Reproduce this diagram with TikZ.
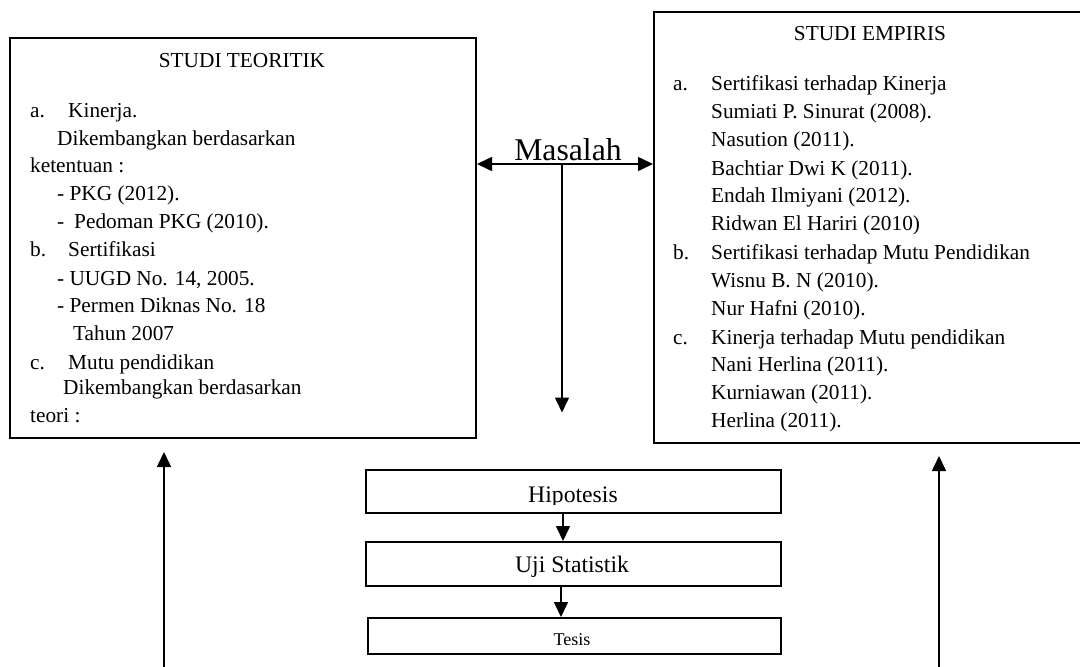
\documentclass[tikz,border=0pt]{standalone}
\usepackage{fontspec}
\setmainfont{Liberation Serif}
\usetikzlibrary{arrows.meta}
\tikzset{
  boxframe/.style={draw, line width=2pt, inner sep=0pt, anchor=north west},
  txt/.style={inner sep=0pt, anchor=base west, font=\fontsize{21.3}{26}\selectfont},
  ctxt/.style={inner sep=0pt, anchor=base, font=\fontsize{21.3}{26}\selectfont},
  arr/.style={line width=1.6pt, -{Triangle[length=15pt,width=14pt]}},
  darr/.style={line width=1.6pt, {Triangle[length=15pt,width=14pt]}-{Triangle[length=15pt,width=14pt]}},
  plain/.style={line width=1.6pt}
}
\begin{document}
\begin{tikzpicture}[x=1pt,y=-1pt]
\useasboundingbox (0,0) rectangle (1080,667);
\clip (0,0) rectangle (1080,667);
\fill[white] (0,0) rectangle (1080,667);

% Left box
\node[boxframe, minimum width=466pt, minimum height=400pt] (teori) at (9,37) {};
\node[ctxt] (tt) at (242,67.3) {STUDI TEORITIK};
\node[txt] (l1a) at (30,117.3) {a.};
\node[txt] (l1b) at (68,117.3) {Kinerja.};
\node[txt] (l2) at (57,145) {Dikembangkan berdasarkan};
\node[txt] (l3) at (30,172.7) {ketentuan :};
\node[txt] (l4) at (57,200.7) {- PKG (2012).};
\node[txt] (l5a) at (57,228.7) {-};
\node[txt] (l5b) at (74,228.7) {Pedoman PKG (2010).};
\node[txt] (l6a) at (30,256.7) {b.};
\node[txt] (l6b) at (68,256.7) {Sertifikasi};
\node[txt] (l7) at (57,285) {- UUGD No. 14, 2005.};
\node[txt] (l8) at (57,312.7) {- Permen Diknas No. 18};
\node[txt] (l9) at (73,340.7) {Tahun 2007};
\node[txt] (l10a) at (30,369.3) {c.};
\node[txt] (l10b) at (68,369.3) {Mutu pendidikan};
\node[txt] (l11) at (63,394.3) {Dikembangkan berdasarkan};
\node[txt] (l12) at (30,422.7) {teori :};

% Right box
\node[boxframe, minimum width=432pt, minimum height=431pt] (empiris) at (653,11) {};
\node[ctxt] (et) at (870,40) {STUDI EMPIRIS};
\node[txt] (r1a) at (673,90) {a.};
\node[txt] (r1b) at (711,90) {Sertifikasi terhadap Kinerja};
\node[txt] (r2) at (711,118.3) {Sumiati P. Sinurat (2008).};
\node[txt] (r3) at (711,146) {Nasution (2011).};
\node[txt] (r4) at (711,175) {Bachtiar Dwi K (2011).};
\node[txt] (r5) at (711,202.7) {Endah Ilmiyani (2012).};
\node[txt] (r6) at (711,230.7) {Ridwan El Hariri (2010)};
\node[txt] (r7a) at (673,259.3) {b.};
\node[txt] (r7b) at (711,259.3) {Sertifikasi terhadap Mutu Pendidikan};
\node[txt] (r8) at (711,287.3) {Wisnu B. N (2010).};
\node[txt] (r9) at (711,315) {Nur Hafni (2010).};
\node[txt] (r10a) at (673,344) {c.};
\node[txt] (r10b) at (711,344) {Kinerja terhadap Mutu pendidikan};
\node[txt] (r11) at (711,371.7) {Nani Herlina (2011).};
\node[txt] (r12) at (711,399.3) {Kurniawan (2011).};
\node[txt] (r13) at (711,427.7) {Herlina (2011).};

% Masalah
\node[inner sep=0pt, anchor=base, font=\fontsize{31.7}{36}\selectfont] (mas) at (568,160.7) {Masalah};
\coordinate (m) at (562,164);
\coordinate (mend) at (562,412.5);
\draw[darr] (teori.east |- m) -- (empiris.west |- m);
\draw[arr] (m) -- (mend);

% Bottom boxes
\node[boxframe, minimum width=415pt, minimum height=43pt] (hip) at (365,469) {};
\node[boxframe, minimum width=415pt, minimum height=44pt] (uji) at (365,541) {};
\node[boxframe, minimum width=413pt, minimum height=36pt] (tes) at (367,617) {};
\begin{scope}
  \clip (hip.north west) rectangle ([yshift=10pt]hip.south east);
  \node[inner sep=0pt, anchor=base, font=\fontsize{23.7}{28}\selectfont] (hipt) at (573,502) {Hipotesis};
\end{scope}
\begin{scope}
  \clip (uji.north west) rectangle ([yshift=11pt]uji.south east);
  \node[inner sep=0pt, anchor=base, font=\fontsize{23.7}{28}\selectfont] (ujit) at (572,572.5) {Uji Statistik};
\end{scope}
\begin{scope}
  \clip (tes.north west) rectangle ([yshift=10.3pt]tes.south east);
  \node[inner sep=0pt, anchor=base, font=\fontsize{18}{22}\selectfont] (test) at (572,645.3) {Tesis};
\end{scope}
\coordinate (ax1) at (563,0);
\coordinate (ax2) at (561,0);
\draw[arr] (hip.south -| ax1) -- (uji.north -| ax1);
\draw[arr] (uji.south -| ax2) -- (tes.north -| ax2);

% Side arrows
\coordinate (lb) at (164,670);
\coordinate (rb) at (939,670);
\draw[arr] (lb) -- ([yshift=-13pt]teori.south -| lb);
\draw[arr] (rb) -- ([yshift=-12pt]empiris.south -| rb);
\end{tikzpicture}
\end{document}
